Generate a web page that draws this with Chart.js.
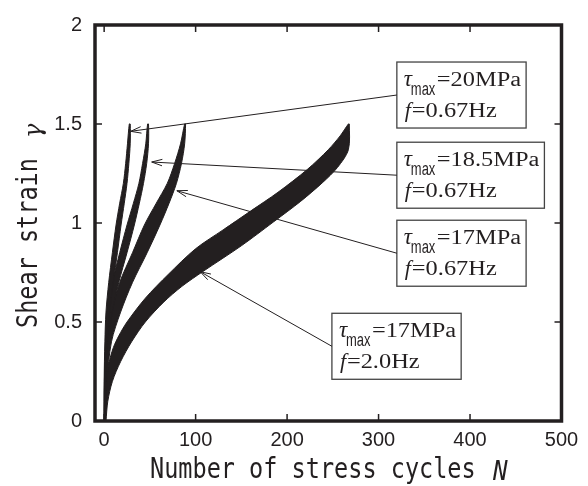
<!DOCTYPE html>
<html>
<head>
<meta charset="utf-8">
<script src="https://cdn.jsdelivr.net/npm/chart.js@4.4.1/dist/chart.umd.min.js"></script>
<style>
  html, body { margin: 0; padding: 0; background: #fff; }
  #wrap { width: 588px; height: 486px; }
</style>
</head>
<body>
<div id="wrap"><canvas id="chart" width="588" height="486"></canvas></div>
<script>
// axis ticks
const xTicks = [0, 100, 200, 300, 400, 500];
const xTickLabels = ["0", "100", "200", "300", "400", "500"];
const yTicks = [0, 0.5, 1, 1.5, 2];
const yTickLabels = ["0", "0.5", "1", "1.5", "2"];

// shear strain levels used to trace the three 0.67Hz bands
const gammaLevels = [0, 0.2, 0.4, 0.55, 0.7, 0.85, 0.99, 1.1, 1.2, 1.3, 1.4, 1.5];
// cycles N at each level, left (upper) and right (lower) edge of each band
const band20Left = [0, 0, 0.8, 2, 5, 9, 13, 17, 21, 23.5, 25.5, 27.5];
const band20Right = [1, 1.5, 3, 6, 10, 14.5, 18.5, 22, 25, 27, 28.5, 28.5];
const band185Left = [0, 0.3, 1.5, 3.5, 9, 17, 25, 32, 38, 42, 45.5, 47.5];
const band185Right = [1, 2, 4, 9, 16, 25, 33, 38.5, 43, 46.5, 48.5, 48.5];
const band17Left = [0, 0.5, 3, 8, 17, 31, 44, 57, 69, 77, 83.5, 88];
const band17Right = [1.5, 3, 8, 18, 31, 47, 61, 71, 79, 84.5, 88, 89];

// 17MPa, 2.0Hz band
const cyclesUpper2Hz = [0, 0.5, 2, 5, 10, 16, 25, 45, 70, 100, 130, 160, 190, 222, 245, 258, 267];
const strainUpper2Hz = [0, 0.1, 0.2, 0.29, 0.37, 0.43, 0.5, 0.62, 0.74, 0.87, 0.965, 1.06, 1.155, 1.27, 1.37, 1.44, 1.5];
const cyclesLower2Hz = [2, 4, 9, 18, 30, 45, 65, 85, 108, 150, 185, 215, 239, 255, 267, 268];
const strainLower2Hz = [0, 0.1, 0.2, 0.3, 0.4, 0.5, 0.6, 0.68, 0.755, 0.885, 1.005, 1.11, 1.205, 1.28, 1.37, 1.5];

// callout texts
const calloutTau = ["20MPa", "18.5MPa", "17MPa", "17MPa"];
const calloutFreq = ["0.67Hz", "0.67Hz", "0.67Hz", "2.0Hz"];
// arrow tips (N, strain)
const arrowTipN = [29, 52, 79.5, 105];
const arrowTipStrain = [1.463, 1.308, 1.163, 0.754];

// callout box placement (top-left corner, in axis units)
const boxLayout = [
  { n: 320, g: 1.813 },
  { n: 320, g: 1.408 },
  { n: 320, g: 1.014 },
  { n: 249, g: 0.544 },
];

const INK = "#231f20";

function bandOutline(leftN, rightN) {
  const up = gammaLevels.map((g, i) => ({ x: leftN[i], y: g }));
  const down = gammaLevels.map((g, i) => ({ x: rightN[i], y: g })).reverse();
  return up.concat(down);
}

function bandOutline2Hz() {
  const up = cyclesUpper2Hz.map((n, i) => ({ x: n, y: strainUpper2Hz[i] }));
  const down = cyclesLower2Hz.map((n, i) => ({ x: n, y: strainLower2Hz[i] })).reverse();
  return up.concat(down);
}

function bandDataset(points) {
  return {
    data: points,
    showLine: true,
    fill: "shape",
    backgroundColor: INK,
    borderColor: INK,
    borderWidth: 1,
    pointRadius: 0,
    tension: 0.3,
  };
}

function drawScaled(ctx, text, x, y, sx) {
  ctx.save();
  ctx.translate(x, y);
  ctx.scale(sx, 1);
  ctx.fillText(text, 0, 0);
  ctx.restore();
}

const frameAndTicks = {
  id: "frameAndTicks",
  afterDatasetsDraw(chart) {
    const { ctx, chartArea: a, scales: { x, y } } = chart;
    ctx.save();
    ctx.strokeStyle = INK;
    ctx.lineWidth = 1.5;
    ctx.beginPath();
    xTicks.forEach((v) => {
      const px = x.getPixelForValue(v);
      ctx.moveTo(px, a.bottom);
      ctx.lineTo(px, a.bottom - 7);
      ctx.moveTo(px, a.top);
      ctx.lineTo(px, a.top + 7);
    });
    yTicks.forEach((v) => {
      const py = y.getPixelForValue(v);
      ctx.moveTo(a.left, py);
      ctx.lineTo(a.left + 7, py);
      ctx.moveTo(a.right, py);
      ctx.lineTo(a.right - 7, py);
    });
    ctx.stroke();
    ctx.lineWidth = 3.5;
    ctx.strokeRect(a.left, a.top, a.width, a.height);
    ctx.restore();
  },
};

const axisTitles = {
  id: "axisTitles",
  afterDraw(chart) {
    const { ctx, chartArea: a } = chart;
    ctx.save();
    ctx.fillStyle = INK;
    ctx.textBaseline = "alphabetic";
    ctx.textAlign = "left";
    ctx.font = '28px "DejaVu Sans Mono"';
    drawScaled(ctx, "Number of stress cycles", a.left + 55, 478, 0.84);
    ctx.font = 'italic 27px "DejaVu Sans Mono"';
    drawScaled(ctx, "N", a.left + 398, 480, 0.9);

    ctx.translate(37, 328);
    ctx.rotate(-Math.PI / 2);
    ctx.font = '28px "DejaVu Sans Mono"';
    drawScaled(ctx, "Shear strain", 0, 0, 0.84);
    ctx.font = 'italic 24px "DejaVu Serif"';
    drawScaled(ctx, "γ", 190, 4, 1);
    ctx.restore();
  },
};

const callouts = {
  id: "callouts",
  afterDraw(chart) {
    const { ctx, scales: { x, y } } = chart;
    const SX = 1.22;
    ctx.save();
    calloutTau.forEach((tau, i) => {
      const left = x.getPixelForValue(boxLayout[i].n);
      const top = y.getPixelForValue(boxLayout[i].g);
      ctx.font = '20px "Liberation Serif"';
      const w1 = ctx.measureText("=" + tau).width * SX;
      const w2 = ctx.measureText("=" + calloutFreq[i]).width * SX;
      const w = Math.max(40 + w1, 15 + w2) + 5;
      const h = 66;

      ctx.fillStyle = "#fff";
      ctx.fillRect(left, top, w, h);
      ctx.strokeStyle = "#444";
      ctx.lineWidth = 1.3;
      ctx.strokeRect(left, top, w, h);

      // leader line with open arrowhead
      const sx = left, sy = top + h / 2;
      const tx = x.getPixelForValue(arrowTipN[i]);
      const ty = y.getPixelForValue(arrowTipStrain[i]);
      const ang = Math.atan2(sy - ty, sx - tx);
      ctx.strokeStyle = INK;
      ctx.lineWidth = 1;
      ctx.beginPath();
      ctx.moveTo(sx, sy);
      ctx.lineTo(tx, ty);
      ctx.moveTo(tx + 11 * Math.cos(ang + 0.3), ty + 11 * Math.sin(ang + 0.3));
      ctx.lineTo(tx, ty);
      ctx.lineTo(tx + 11 * Math.cos(ang - 0.3), ty + 11 * Math.sin(ang - 0.3));
      ctx.stroke();

      ctx.fillStyle = INK;
      ctx.textBaseline = "alphabetic";
      ctx.textAlign = "left";
      ctx.font = 'italic 23px "Liberation Serif"';
      ctx.fillText("τ", left + 7, top + 24);
      ctx.font = '18px "Liberation Sans"';
      drawScaled(ctx, "max", left + 14, top + 33, 0.72);
      ctx.font = '20px "Liberation Serif"';
      drawScaled(ctx, "=" + tau, left + 40, top + 24, SX);
      ctx.font = 'italic 22px "Liberation Serif"';
      ctx.fillText("f", left + 8, top + 55);
      ctx.font = '20px "Liberation Serif"';
      drawScaled(ctx, "=" + calloutFreq[i], left + 15, top + 55, SX);
    });
    ctx.restore();
  },
};

const tickFont = { family: '"Liberation Sans", Arial, sans-serif', size: 20 };

new Chart(document.getElementById("chart"), {
  type: "scatter",
  data: {
    datasets: [
      bandDataset(bandOutline(band20Left, band20Right)),
      bandDataset(bandOutline(band185Left, band185Right)),
      bandDataset(bandOutline(band17Left, band17Right)),
      bandDataset(bandOutline2Hz()),
    ],
  },
  options: {
    responsive: false,
    animation: false,
    devicePixelRatio: 1,
    layout: { padding: { top: 20.5, right: 26.5, left: 0, bottom: 0 } },
    plugins: {
      legend: { display: false },
      tooltip: { enabled: false },
    },
    scales: {
      x: {
        type: "linear",
        min: -10,
        max: 500,
        grid: { display: false, drawTicks: false },
        border: { display: false },
        afterBuildTicks(scale) {
          scale.ticks = xTicks.map((v) => ({ value: v }));
        },
        afterFit(scale) {
          scale.height = 65;
        },
        ticks: {
          autoSkip: false,
          maxRotation: 0,
          padding: 7,
          color: INK,
          font: tickFont,
          callback: (value, index) => xTickLabels[index],
        },
      },
      y: {
        type: "linear",
        min: 0,
        max: 2,
        grid: { display: false, drawTicks: false },
        border: { display: false },
        afterBuildTicks(scale) {
          scale.ticks = yTicks.map((v) => ({ value: v }));
        },
        afterFit(scale) {
          scale.width = 95;
        },
        ticks: {
          autoSkip: false,
          padding: 13,
          color: INK,
          font: tickFont,
          callback: (value, index) => yTickLabels[index],
        },
      },
    },
  },
  plugins: [frameAndTicks, axisTitles, callouts],
});
</script>
</body>
</html>
